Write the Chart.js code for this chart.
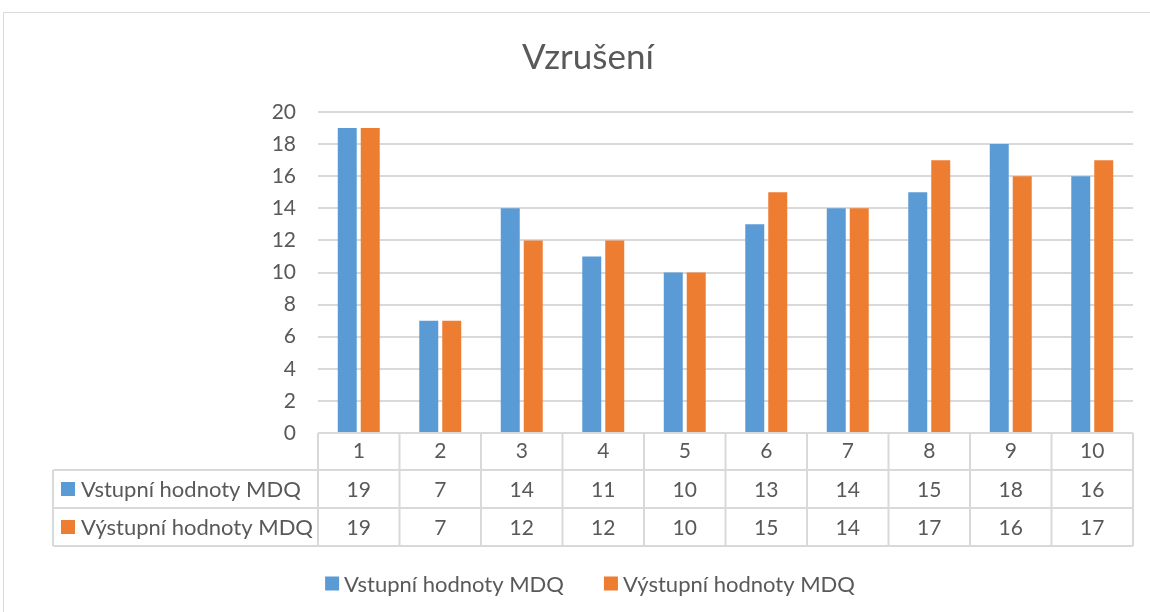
<!DOCTYPE html>
<html>
<head>
<meta charset="utf-8">
<script src="https://cdn.jsdelivr.net/npm/chart.js@4/dist/chart.umd.min.js"></script>
<style>
html,body{margin:0;padding:0;background:#fff;}
#wrap{position:absolute;left:0;top:0;width:1150px;height:612px;}
</style>
</head>
<body>
<div id="wrap"><canvas id="c" width="1150" height="612"></canvas></div>
<script>
const title = "Vzrušení";
const categories = ["1","2","3","4","5","6","7","8","9","10"];
const seriesNames = ["Vstupní hodnoty MDQ", "Výstupní hodnoty MDQ"];
const vstupni = [19, 7, 14, 11, 10, 13, 14, 15, 18, 16];
const vystupni = [19, 7, 12, 12, 10, 15, 14, 17, 16, 17];
const colors = ["#5B9BD5", "#ED7D31"];

const FONT = "Lato, 'Open Sans', sans-serif";
const TXT = "#595959";
const GRID = "#D9D9D9";

const tablePlugin = {
  id: 'dataTable',
  beforeDraw(chart) {
    const ctx = chart.ctx;
    ctx.save();
    ctx.strokeStyle = GRID;
    ctx.lineWidth = 1;
    ctx.beginPath();
    ctx.moveTo(3.5, 612);
    ctx.lineTo(3.5, 12.5);
    ctx.lineTo(1150, 12.5);
    ctx.stroke();
    ctx.restore();
  },
  afterDraw(chart) {
    const ctx = chart.ctx;
    const xs = chart.scales.x;
    const area = chart.chartArea;
    const n = categories.length;
    const cw = (area.right - area.left) / n;
    const y0 = area.bottom, y1 = 470, y2 = 508, y3 = 546;
    const leftX = 53;
    ctx.save();
    ctx.strokeStyle = GRID;
    ctx.lineWidth = 2;
    ctx.beginPath();
    ctx.moveTo(area.left, y0); ctx.lineTo(area.right, y0);
    ctx.moveTo(leftX, y1); ctx.lineTo(area.right, y1);
    ctx.moveTo(leftX, y2); ctx.lineTo(area.right, y2);
    ctx.moveTo(leftX, y3); ctx.lineTo(area.right, y3);
    ctx.moveTo(leftX, y1); ctx.lineTo(leftX, y3);
    for (let i = 0; i <= n; i++) {
      const x = (i < n ? xs.getPixelForValue(i) - cw / 2 : xs.getPixelForValue(n - 1) + cw / 2);
      ctx.moveTo(x, y0); ctx.lineTo(x, y3);
    }
    ctx.stroke();
    const rows = [vstupni, vystupni];
    const rowY = [(y1 + y2) / 2, (y2 + y3) / 2];
    ctx.textBaseline = "middle";
    rows.forEach((vals, r) => {
      ctx.fillStyle = colors[r];
      ctx.fillRect(61, rowY[r] - 7, 14, 14);
      ctx.fillStyle = TXT;
      ctx.textAlign = "left";
      ctx.font = "22px " + FONT;
      ctx.fillText(seriesNames[r], 81, rowY[r] + 1);
      ctx.textAlign = "center";
      ctx.font = "21px " + FONT;
      vals.forEach((v, i) => {
        ctx.fillText(String(v), xs.getPixelForValue(i), rowY[r] + 1);
      });
    });
    // bottom legend
    ctx.font = "22px " + FONT;
    const w0 = ctx.measureText(seriesNames[0]).width;
    const w1 = ctx.measureText(seriesNames[1]).width;
    const total = 14 + 5 + w0 + 40 + 14 + 5 + w1;
    let x = 590 - total / 2;
    const ly = 583.5;
    ctx.textAlign = "left";
    [w0, w1].forEach((w, r) => {
      ctx.fillStyle = colors[r];
      ctx.fillRect(x, ly - 7, 14, 14);
      ctx.fillStyle = TXT;
      ctx.fillText(seriesNames[r], x + 19, ly + 1);
      x += 19 + w + 40;
    });
    ctx.restore();
  }
};

new Chart(document.getElementById('c'), {
  type: 'bar',
  data: {
    labels: categories,
    datasets: [
      { label: seriesNames[0], data: vstupni, backgroundColor: colors[0], categoryPercentage: 0.564, barPercentage: 0.826 },
      { label: seriesNames[1], data: vystupni, backgroundColor: colors[1], categoryPercentage: 0.564, barPercentage: 0.826 }
    ]
  },
  options: {
    responsive: false,
    animation: false,
    devicePixelRatio: 1,
    layout: { padding: { top: 20, left: 43, right: 17, bottom: 0 } },
    plugins: {
      title: {
        display: true, text: title, color: TXT,
        font: { family: FONT, size: 35, weight: 'normal' },
        padding: { top: 17, bottom: 33 }
      },
      legend: { display: false },
      tooltip: { enabled: false }
    },
    scales: {
      x: {
        grid: { display: false, drawTicks: false },
        border: { display: false },
        ticks: { color: TXT, font: { family: FONT, size: 21 }, padding: 6 },
        afterFit(s) { s.height = 179; }
      },
      y: {
        min: 0, max: 20,
        ticks: { stepSize: 2, color: TXT, font: { family: FONT, size: 21 }, padding: 22 },
        grid: { color: GRID, lineWidth: 2, drawTicks: false },
        border: { display: false },
        afterFit(s) { s.width = 275; }
      }
    }
  },
  plugins: [tablePlugin]
});
</script>
</body>
</html>
